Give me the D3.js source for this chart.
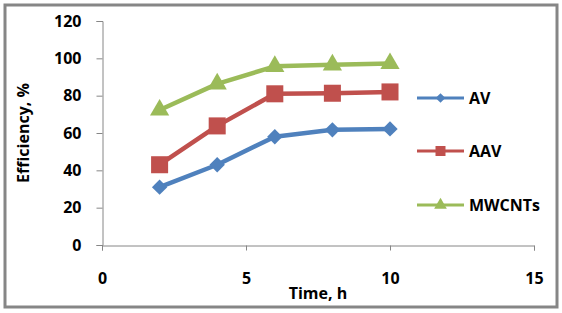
<!DOCTYPE html>
<html lang="en">
<head>
  <meta charset="UTF-8">
  <title>Efficiency vs Time</title>
  <script src="https://d3js.org/d3.v7.min.js"></script>
  <style>
    body {
      margin: 0;
      background-color: #ffffff;
    }
    svg text {
      font-family: "Open Sans", "Liberation Sans", Arial, sans-serif;
      font-weight: bold;
      font-size: 16px;
      fill: #000;
    }
  </style>
</head>
<body>
  <svg id="chart" width="562" height="313"></svg>

  <script>
    // data
    const times = [2, 4, 6, 8, 10];
    const av = [31, 43, 58, 61.7, 62.2];
    const aav = [43, 63.8, 81, 81.3, 82];
    const mwcnts = [72.3, 86.3, 95.7, 96.5, 97.2];
    const seriesNames = ["AV", "AAV", "MWCNTs"];
    const seriesColors = ["#4F81BD", "#C0504D", "#9BBB59"];
    const xTicks = [0, 5, 10, 15];
    const yTicks = [0, 20, 40, 60, 80, 100, 120];

    const series = [av, aav, mwcnts].map((vals, i) => ({
      name: seriesNames[i],
      color: seriesColors[i],
      points: times.map((t, j) => ({ x: t, y: vals[j] }))
    }));

    const svg = d3.select("#chart");

    // outer frame
    svg.append("rect")
      .attr("x", 5).attr("y", 5)
      .attr("width", 552).attr("height", 302)
      .attr("fill", "#fff")
      .attr("stroke", "#868686")
      .attr("stroke-width", 3);

    const x = d3.scaleLinear().domain([0, 15]).range([102, 534]);
    const y = d3.scaleLinear().domain([0, 120]).range([245, 21]);

    // y axis
    const yAxis = svg.append("g")
      .attr("transform", "translate(102.5,0)")
      .call(d3.axisLeft(y).tickValues(yTicks).tickSize(6).tickPadding(15));
    // x axis
    const xAxis = svg.append("g")
      .attr("transform", "translate(0,245.5)")
      .call(d3.axisBottom(x).tickValues(xTicks).tickSize(5).tickPadding(22));

    [yAxis, xAxis].forEach(g => {
      g.select(".domain").attr("stroke", "#868686");
      g.selectAll(".tick line").attr("stroke", "#868686");
      g.selectAll("text").attr("font-size", null).attr("font-family", null);
    });

    // axis titles
    svg.append("text")
      .attr("x", 318).attr("y", 299)
      .attr("text-anchor", "middle")
      .text("Time, h");
    svg.append("text")
      .attr("transform", "translate(29,133) rotate(-90)")
      .attr("text-anchor", "middle")
      .text("Efficiency, %");

    const line = d3.line().x(d => x(d.x)).y(d => y(d.y));

    const markers = [
      d3.symbol().type(d3.symbolDiamond2).size(150),
      d3.symbol().type(d3.symbolSquare).size(290),
      d3.symbol().type(d3.symbolTriangle).size(160)
    ];

    series.forEach((s, i) => {
      const g = svg.append("g");
      g.append("path")
        .datum(s.points)
        .attr("d", line)
        .attr("fill", "none")
        .attr("stroke", s.color)
        .attr("stroke-width", 4.5)
        .attr("stroke-linejoin", "round");
      g.selectAll("path.m")
        .data(s.points)
        .enter()
        .append("path")
        .attr("class", "m")
        .attr("d", markers[i])
        .attr("transform", d => `translate(${x(d.x)},${y(d.y)})`)
        .attr("fill", s.color);
    });

    // legend
    const legend = svg.append("g");
    const legendY = [98, 151, 205];
    series.forEach((s, i) => {
      const row = legend.append("g").attr("transform", `translate(0,${legendY[i]})`);
      row.append("line")
        .attr("x1", 417).attr("x2", 464)
        .attr("stroke", s.color)
        .attr("stroke-width", 3);
      row.append("path")
        .attr("d", d3.symbol().type([d3.symbolDiamond2, d3.symbolSquare, d3.symbolTriangle][i]).size([60, 100, 70][i]))
        .attr("transform", "translate(440.5,0)")
        .attr("fill", s.color);
      row.append("text")
        .attr("x", 469).attr("y", 0)
        .attr("dy", "0.35em")
        .text(s.name);
    });
  </script>
</body>
</html>
